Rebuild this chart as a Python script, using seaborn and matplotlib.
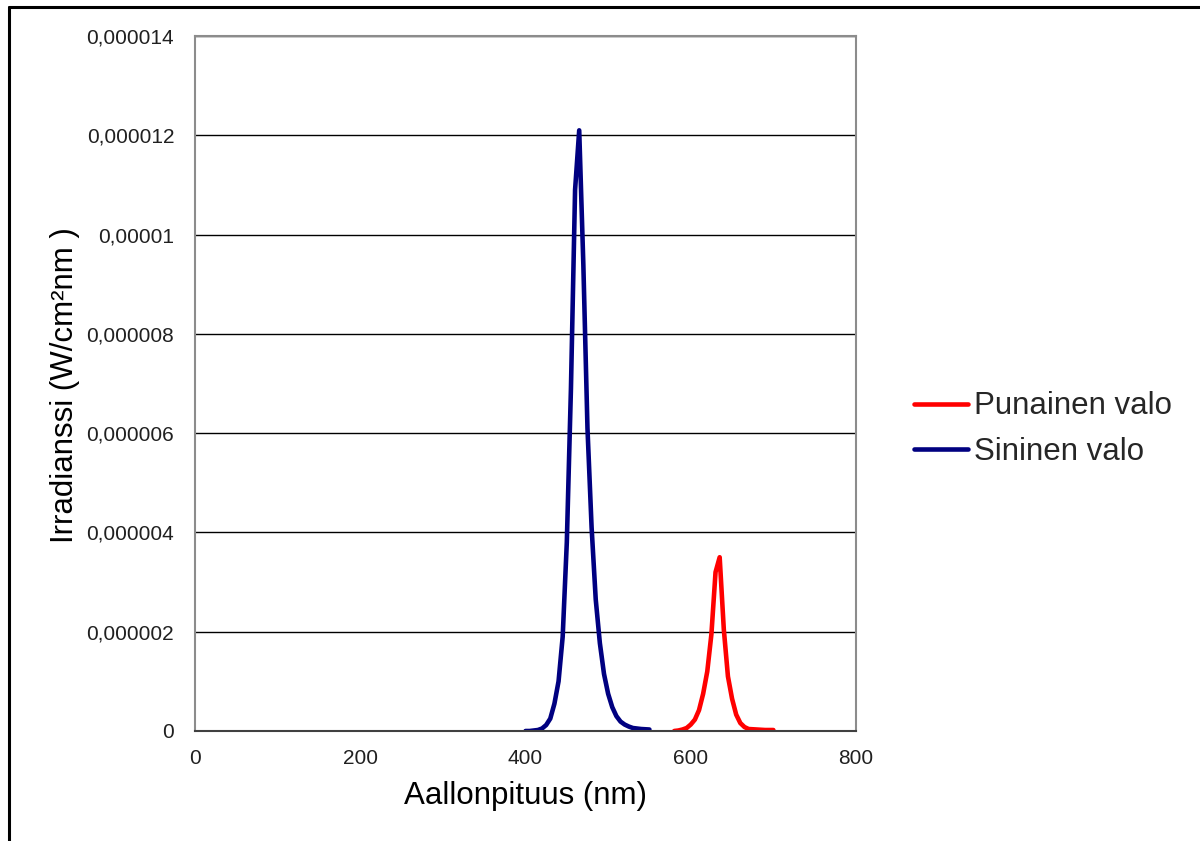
import numpy as np
import pandas as pd
import matplotlib
matplotlib.use("Agg")
import matplotlib.pyplot as plt
import seaborn as sns
from matplotlib.lines import Line2D

# ---- data ----
blue_nm = [400, 405, 410, 415, 420, 425, 430, 435, 440, 445, 450, 455, 460, 465,
           470, 475, 480, 485, 490, 495, 500, 505, 510, 515, 520, 525, 530, 540, 550]
blue_val = [0, 0, 0.01, 0.02, 0.05, 0.12, 0.25, 0.55, 1.0, 1.9, 3.8, 6.9, 10.9, 12.1,
            9.4, 6.1, 4.1, 2.65, 1.77, 1.15, 0.75, 0.48, 0.3, 0.19, 0.13, 0.09, 0.06, 0.04, 0.03]
red_nm = [580, 585, 590, 595, 600, 605, 610, 615, 620, 625, 630, 635, 640, 645,
          650, 655, 660, 665, 670, 680, 690, 700]
red_val = [0, 0.01, 0.03, 0.06, 0.13, 0.23, 0.42, 0.75, 1.2, 1.95, 3.2, 3.5, 2.05, 1.1,
           0.65, 0.33, 0.16, 0.08, 0.04, 0.03, 0.02, 0.02]
series_names = ["Punainen valo", "Sininen valo"]
series_colors = ["#FF0000", "#000080"]
x_ticks = [0, 200, 400, 600, 800]
x_tick_labels = ["0", "200", "400", "600", "800"]
y_ticks = [0, 2e-6, 4e-6, 6e-6, 8e-6, 10e-6, 12e-6, 14e-6]
y_tick_labels = ["0", "0,000002", "0,000004", "0,000006", "0,000008",
                 "0,00001", "0,000012", "0,000014"]
x_label = "Aallonpituus (nm)"
y_label = "Irradianssi (W/cm²nm )"

df = pd.concat([
    pd.DataFrame({"nm": red_nm, "val": np.array(red_val) * 1e-6, "series": series_names[0]}),
    pd.DataFrame({"nm": blue_nm, "val": np.array(blue_val) * 1e-6, "series": series_names[1]}),
])

sns.set_style("white")
plt.rcParams["font.family"] = ["Liberation Sans", "DejaVu Sans"]

fig = plt.figure(figsize=(12, 8.41), dpi=100)
ax = fig.add_axes([195 / 1200, 1 - 731 / 841, (856 - 195) / 1200, (731 - 36) / 841])

sns.lineplot(data=df, x="nm", y="val", hue="series", hue_order=series_names,
             palette=series_colors, linewidth=3.3, ax=ax, legend=False,
             sort=False, estimator=None)

ax.set_xlim(0, 800)
ax.set_ylim(0, 14e-6)
ax.set_xticks(x_ticks)
ax.set_xticklabels(x_tick_labels)
ax.set_yticks(y_ticks)
ax.set_yticklabels(y_tick_labels)
ax.tick_params(axis="both", length=0, labelsize=15, colors="#202020")
ax.tick_params(axis="y", pad=15)
ax.tick_params(axis="x", pad=13)
ax.yaxis.grid(True, color="#000000", linewidth=1.0)
ax.xaxis.grid(False)
ax.set_axisbelow(True)
for side in ["top", "right", "left"]:
    ax.spines[side].set_color("#8c8c8c")
    ax.spines[side].set_linewidth(1.5)
ax.spines["bottom"].set_color("#404040")
ax.spines["bottom"].set_linewidth(1.5)

ax.set_xlabel(x_label, fontsize=22.5, color="black")
ax.set_ylabel(y_label, fontsize=22.5, color="black")
ax.xaxis.set_label_coords((525 - 195) / 661, -(781 - 731) / 695)
ax.yaxis.set_label_coords(-(195 - 80) / 661, (731 - 385) / 695)

handles = [Line2D([], [], color=c, linewidth=3.3) for c in series_colors]
fig.legend(handles, series_names, loc="upper left",
           bbox_to_anchor=(901 / 1200, 1 - 379 / 841), frameon=False,
           fontsize=22.5, handlelength=1.75, handletextpad=0.2, labelspacing=0.5,
           borderaxespad=0)

# outer chart frame (left and top edges visible)
fig.add_artist(Line2D([9 / 1200, 9 / 1200], [0, 1 - 7 / 841], color="black",
                      linewidth=2.2, transform=fig.transFigure))
fig.add_artist(Line2D([9 / 1200, 1], [1 - 7 / 841, 1 - 7 / 841], color="black",
                      linewidth=2.2, transform=fig.transFigure))

fig.savefig("out.png", dpi=100)
